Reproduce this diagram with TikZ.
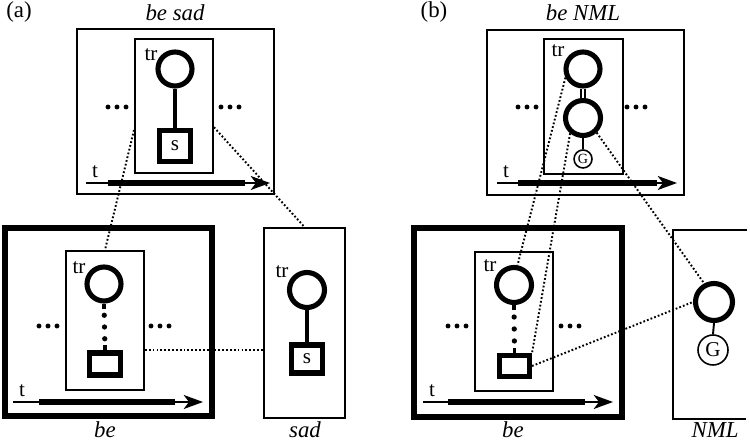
\documentclass[tikz,border=0pt]{standalone}
\usepackage{fontspec}
\setmainfont{Liberation Serif}
\usetikzlibrary{arrows.meta,calc}
\tikzset{
  % thin and heavy outlines of the boxes
  frame/.style={draw, line width=1.1pt, inner sep=0pt},
  heavy frame/.style={draw, line width=3pt, inner sep=0pt},
  % the fat rings and the small G rings
  ring/.style={circle, draw, line width=2.9pt, inner sep=0pt, minimum size=0.68cm},
  gring/.style={circle, draw, line width=0.9pt, inner sep=0pt, minimum size=#1},
  seg/.style={draw, line width=2.9pt, inner sep=0pt, font=\fontsize{12}{14}\selectfont},
  stem/.style={line width=2pt},
  link/.style={line width=1.1pt, dash pattern=on 1pt off 1.2pt},
  timeline/.style={line width=0.7pt, -{Stealth[length=11pt,width=8pt,inset=3pt]}},
  timebar/.style={line width=3pt},
  title/.style={font=\itshape\fontsize{13}{15}\selectfont},
  tag/.style={font=\fontsize{13}{15}\selectfont},
  lbl/.style={font=\fontsize{12}{14}\selectfont, inner sep=0pt},
}
\begin{document}
\begin{tikzpicture}[x=0.02cm,y=-0.02cm]
  \useasboundingbox (0,0) rectangle (750,445);
  % panel (a)
  \node[tag] (tagA) at (19,12) {(a)};
  \node[title] (ttlA) at (175,13) {be sad};
  \node[frame, minimum width=3.94cm, minimum height=3.3cm] (boxA) at (175.5,111.5) {};
  \node[frame, minimum width=1.56cm, minimum height=2.68cm] (inA) at (174,106) {};
  \node[lbl] (trA) at (151,55) {tr};
  \node[ring] (cA) at (175,69) {};
  \node[seg, minimum size=0.62cm] (sqA) at (175,146) {s};
  \draw[stem] (cA.south) -- (sqA.north);

  \node[heavy frame, minimum width=4.14cm, minimum height=3.76cm] (boxB) at (108.5,322) {};
  \node[title] (ttlB) at (105,430) {be};
  \node[frame, minimum width=1.56cm, minimum height=2.78cm] (inB) at (105,320.5) {};
  \node[lbl] (trB) at (79,268) {tr};
  \node[ring] (cB) at (104,284) {};
  \node[seg, minimum width=0.62cm, minimum height=0.44cm] (rB) at (105,364) {};

  \node[frame, minimum width=1.62cm, minimum height=3.8cm] (boxS) at (304.5,323) {};
  \node[title] (ttlS) at (305,430) {sad};
  \node[lbl] (trS) at (282,272) {tr};
  \node[ring, minimum size=0.7cm] (cS) at (307,290) {};
  \node[seg, minimum width=0.62cm, minimum height=0.56cm] (sqS) at (307,359) {s};
  \draw[stem] (cS.south) -- (sqS.north);

  % panel (b)
  \node[tag] (tagB) at (434,12) {(b)};
  \node[title] (ttlC) at (583,13) {be NML};
  \node[frame, minimum width=3.94cm, minimum height=3.3cm] (boxC) at (585.5,112.5) {};
  \node[frame, minimum width=1.58cm, minimum height=2.7cm] (inC) at (583.5,106.5) {};
  \node[lbl] (trC) at (558,51) {tr};
  \node[ring] (c1) at (583,69) {};
  \node[ring, minimum size=0.7cm] (c2) at (583,118) {};
  \node[gring=0.36cm, font=\fontsize{8}{9}\selectfont] (gC) at (583,159) {G};
  \draw[line width=1.2pt, double, double distance=1.2pt] (c1.south) -- (c2.north);
  \draw[line width=0.9pt] (c2.south) -- (gC.north);

  \node[heavy frame, minimum width=4.16cm, minimum height=3.78cm] (boxD) at (518,322.5) {};
  \node[title] (ttlD) at (513,430) {be};
  \node[frame, minimum width=1.56cm, minimum height=2.78cm] (inD) at (514,321.5) {};
  \node[lbl] (trD) at (490,266) {tr};
  \node[ring, minimum size=0.7cm] (cD) at (514,285) {};
  \node[seg, minimum width=0.6cm, minimum height=0.42cm] (rD) at (514.5,366) {};

  \draw[line width=1.1pt] (747,230) -- (673,230) -- (673,419) -- (746,419);
  \node[title] (ttlN) at (715,430) {NML};
  \node[ring, minimum size=0.74cm] (cN) at (714,302) {};
  \node[gring=0.6cm, font=\fontsize{12}{14}\selectfont] (gN) at (713,350) {G};
  \draw[line width=1.1pt] (cN.south) -- (gN.north);

  % dotted stems in the be boxes
  \foreach \c/\r in {cB/rB, cD/rD} {
    \draw[stem] (\c.south) -- ++(0,5);
    \draw[stem] (\r.north) -- ++(0,-5);
    \foreach \k in {0.25,0.5,0.75}
      \fill ($(\c.south)!\k!(\r.north)$) circle (1.5pt);
  }

  % the dots left and right
  \foreach \x/\y in {117/107, 230/107, 48/326, 160/326, 527/107, 636/107, 457/326, 570/326}
    \foreach \d in {-9,0,9}
      \fill (\x+\d,\y) circle (1.4pt);

  % time axes
  \foreach \n/\s/\e/\bs/\be/\y in {A/86/270/108/245/183, B/13/203/39/175/402, C/497/677/518/657/183, D/423/613/448/585/402} {
    \coordinate (ts\n) at (\s,\y);
    \coordinate (te\n) at (\e,\y);
    \coordinate (bs\n) at (\bs,\y);
    \coordinate (be\n) at (\be,\y);
    \draw[timebar] (bs\n) -- (be\n);
    \draw[timeline] (ts\n) -- (te\n);
    \node[lbl] (t\n) at (\s+9,\y-11) {t};
  }

  % dotted links
  \draw[link] (inA.211) -- (inB.north);
  \draw[link] (inA.-28) -- (boxS.north);
  \draw[link] (inB.east |- rB.north) -- (boxS.west |- rB.north);
  \draw[link] (c1.206) -- (cD.80);
  \draw[link] (c2.230) -- (rD.north east);
  \draw[link] (c2.-47) -- (cN.118);
  \draw[link] (rD.east) -- (cN.west);
\end{tikzpicture}
\end{document}
